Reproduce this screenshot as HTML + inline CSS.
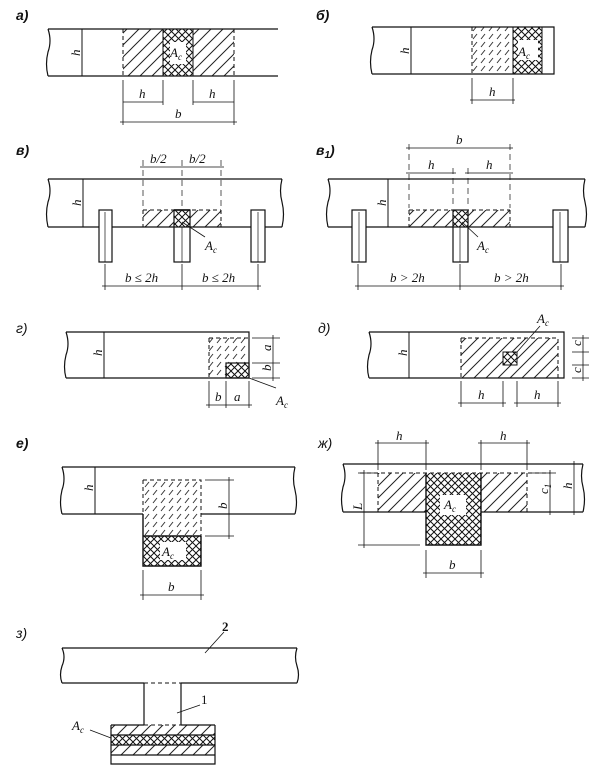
<!DOCTYPE html>
<html><head><meta charset="utf-8"><style>
html,body{margin:0;padding:0;background:#fff}
svg{display:block}
text{font-family:"Liberation Serif",serif;font-style:italic;font-size:13px;fill:#111}
.lb{font-family:"Liberation Sans",sans-serif;font-weight:bold;font-size:14px}
</style></head><body>
<svg width="605" height="771" viewBox="0 0 605 771" xmlns="http://www.w3.org/2000/svg">
<defs>
<pattern id="ht" width="12" height="12" patternUnits="userSpaceOnUse"><path d="M-1,13 L13,-1 M-1,1 L1,-1 M11,13 L13,11" stroke="#222" stroke-width="1"/></pattern>
<pattern id="cx" width="7" height="7" patternUnits="userSpaceOnUse"><path d="M0,7 L7,0 M0,0 L7,7" stroke="#111" stroke-width="1"/></pattern>
<pattern id="dh" width="8" height="8" patternUnits="userSpaceOnUse"><path d="M1,7 L5,2" stroke="#333" stroke-width="1"/></pattern>
</defs>
<g fill="none" stroke="#111" stroke-width="1.2">
<!-- a -->
<rect x="123" y="29" width="111" height="47" fill="url(#ht)" stroke="none"/>
<rect x="163" y="29" width="30" height="47" fill="#fff" stroke="none"/>
<rect x="163" y="29" width="30" height="47" fill="url(#cx)" stroke="none"/>
<rect x="170" y="42" width="16" height="22" fill="#fff" stroke="none"/>
<path d="M48,29 L278,29 M48,76 L278,76 M48,29 q4,12 0,23 q-3,12 0,24"/>
<path d="M82,29 V76" stroke-width="1"/>
<path d="M123,29V76 M234,29V76" stroke-dasharray="4,3" stroke-width="1"/>
<path d="M163,29V76 M193,29V76" stroke-width="1"/>
<path d="M123,80V125 M163,80V105 M193,80V105 M234,80V125 M123,102H163 M193,102H234 M120,122H237" stroke-width="0.8"/>
<!-- б -->
<rect x="472" y="27" width="41" height="47" fill="url(#dh)" stroke="none"/>
<rect x="513" y="27" width="29" height="47" fill="url(#cx)" stroke="none"/>
<rect x="518" y="40" width="20" height="20" fill="#fff" stroke="none"/>
<path d="M372,27 H554 V74 H372 M372,27 q4,12 0,23 q-3,12 0,24"/>
<path d="M411,27V74 M542,27V74 M513,27V74" stroke-width="1"/>
<path d="M472,27V74" stroke-dasharray="4,3" stroke-width="1"/>
<path d="M472,78V104 M513,78V104 M470,100H515" stroke-width="0.8"/>
<!-- в -->
<rect x="143" y="210" width="78" height="17" fill="url(#ht)" stroke="none"/>
<rect x="174" y="210" width="16" height="17" fill="#fff" stroke="none"/>
<rect x="174" y="210" width="16" height="17" fill="url(#cx)" stroke="none"/>
<path d="M48,179 H282 M48,227 H282 M48,179 q4,12 0,23 q-3,12 0,25 M282,179 q-3,12 0,23 q3,12 0,25"/>
<path d="M83,179V227" stroke-width="1"/>
<path d="M143,210H221 M143,210V227 M221,210V227" stroke-dasharray="4,3" stroke-width="1"/>
<path d="M174,210H190" stroke-width="1.6"/>
<rect x="99" y="210" width="13" height="52" fill="#fff"/><path d="M105,212V262" stroke-width="0.7"/>
<rect x="174" y="210" width="16" height="52" fill="none"/><path d="M182,227V262" stroke-width="0.7"/>
<rect x="251" y="210" width="14" height="52" fill="#fff"/><path d="M258,212V262" stroke-width="0.7"/>
<path d="M143,160V208 M182,160V208 M221,160V208" stroke-dasharray="6,4" stroke-width="0.7"/>
<path d="M140,167H224 M105,264V290 M182,264V290 M258,264V290 M102,286H261 M182,222 L205,237" stroke-width="0.8"/>
<!-- в1 -->
<rect x="409" y="210" width="101" height="17" fill="url(#ht)" stroke="none"/>
<rect x="453" y="210" width="15" height="17" fill="#fff" stroke="none"/>
<rect x="453" y="210" width="15" height="17" fill="url(#cx)" stroke="none"/>
<path d="M328,179 H585 M328,227 H585 M328,179 q4,12 0,23 q-3,12 0,25 M585,179 q-3,12 0,23 q3,12 0,25"/>
<path d="M388,179V227" stroke-width="1"/>
<path d="M409,210H510 M409,210V227 M510,210V227" stroke-dasharray="4,3" stroke-width="1"/>
<rect x="352" y="210" width="14" height="52" fill="#fff"/><path d="M359,212V262" stroke-width="0.7"/>
<rect x="453" y="210" width="15" height="52"/><path d="M460,227V262" stroke-width="0.7"/>
<rect x="553" y="210" width="15" height="52" fill="#fff"/><path d="M560,212V262" stroke-width="0.7"/>
<path d="M409,144V208 M510,144V208 M453,168V208 M468,168V208" stroke-dasharray="6,4" stroke-width="0.7"/>
<path d="M406,148H513 M406,173H456 M465,173H513 M358,264V290 M460,264V290 M561,264V290 M355,286H564 M462,222 L478,237" stroke-width="0.8"/>
<!-- г -->
<rect x="209" y="338" width="40" height="40" fill="url(#dh)" stroke="none"/>
<rect x="226" y="363" width="23" height="15" fill="#fff" stroke="none"/>
<rect x="226" y="363" width="23" height="15" fill="url(#cx)"/>
<path d="M66,332 H249 V378 H66 M66,332 q4,12 0,23 q-3,12 0,23"/>
<path d="M104,332V378" stroke-width="1"/>
<path d="M209,338H249 M209,338V378" stroke-dasharray="4,3" stroke-width="1"/>
<path d="M252,338H280 M252,363H280 M252,378H280 M273,335V381 M209,381V408 M226,381V408 M249,381V408 M206,405H252 M249,378 L276,388" stroke-width="0.8"/>
<!-- д -->
<rect x="461" y="338" width="97" height="40" fill="url(#ht)" stroke="none"/>
<rect x="503" y="352" width="14" height="13" fill="#fff" stroke="none"/>
<rect x="503" y="352" width="14" height="13" fill="url(#cx)" stroke-width="1"/>
<path d="M369,332 H564 V378 H369 M369,332 q4,12 0,23 q-3,12 0,23"/>
<path d="M409,332V378" stroke-width="1"/>
<path d="M461,338H558 V378 M461,338V378" stroke-dasharray="4,3" stroke-width="1"/>
<path d="M572,338H589 M572,352H589 M572,365H589 M572,378H589 M583,335V381 M461,381V407 M503,381V407 M517,381V407 M558,381V407 M458,403H506 M514,403H561 M517,352 L540,326" stroke-width="0.8"/>
<!-- е -->
<rect x="143" y="480" width="58" height="56" fill="url(#dh)" stroke="none"/>
<rect x="143" y="536" width="58" height="30" fill="url(#cx)" stroke="none"/>
<rect x="160" y="542" width="26" height="18" fill="#fff" stroke="none"/>
<path d="M62,467 H295 M62,514 H143 M201,514 H295 M62,467 q4,12 0,23 q-3,12 0,24 M295,467 q-3,12 0,23 q3,12 0,24"/>
<path d="M95,467V514" stroke-width="1"/>
<path d="M143,480H201 V536 M143,480V536" stroke-dasharray="4,3" stroke-width="1"/>
<path d="M143,514V566 H201 V536 M143,536H201" stroke-width="1.4"/>
<path d="M205,480H234 M205,536H234 M229,477V539 M143,570V600 M201,570V600 M140,595H204" stroke-width="0.8"/>
<!-- ж -->
<rect x="378" y="473" width="149" height="39" fill="url(#ht)" stroke="none"/>
<rect x="426" y="473" width="55" height="72" fill="#fff" stroke="none"/>
<rect x="426" y="473" width="55" height="72" fill="url(#cx)" stroke="none"/>
<rect x="440" y="495" width="26" height="20" fill="#fff" stroke="none"/>
<path d="M343,464 H583 M343,512 H426 M481,512 H583 M343,464 q4,12 0,23 q-3,12 0,25 M583,464 q-3,12 0,23 q3,12 0,25"/>
<path d="M360,473H550 M378,473V512 M527,473V512" stroke-dasharray="4,3" stroke-width="1"/>
<path d="M426,473V545 H481 V473" stroke-width="1.4"/>
<path d="M378,440V470 M426,440V470 M481,440V470 M527,440V470 M375,443H429 M478,443H530 M358,473H374 M358,545H420 M364,470V548 M530,473H556 M530,512H556 M550,470V515 M574,461V515 M426,550V578 M481,550V578 M423,573H484" stroke-width="0.8"/>
<!-- з -->
<rect x="111" y="725" width="104" height="10" fill="url(#ht)" stroke="none"/>
<rect x="111" y="735" width="104" height="10" fill="url(#cx)" stroke="none"/>
<rect x="111" y="745" width="104" height="10" fill="url(#ht)" stroke="none"/>
<path d="M62,648 H297 M62,683 H144 M181,683 H297 M62,648 q4,9 0,18 q-3,9 0,17 M297,648 q-3,9 0,18 q3,9 0,17"/>
<path d="M144,683H181 M144,725H181" stroke-dasharray="4,3" stroke-width="1"/>
<path d="M144,683V725 M181,683V725 M111,725H144 M181,725H215 M111,725V764 H215 V725 M111,735H215 M111,745H215 M111,755H215" stroke-width="1.2"/>
<path d="M205,653 L224,632 M177,713 L200,705 M90,730 L111,738" stroke-width="0.8"/>
</g>
<g>
<text class="lb" x="16" y="20">а)</text>
<text class="lb" x="316" y="20">б)</text>
<text class="lb" x="16" y="155">в)</text>
<text class="lb" x="316" y="155">в<tspan font-size="10" dy="3">1</tspan><tspan dy="-3">)</tspan></text>
<text class="lb" x="16" y="333" style="font-weight:normal;font-style:italic">г)</text>
<text class="lb" x="318" y="333" style="font-weight:normal;font-style:italic">д)</text>
<text class="lb" x="16" y="448">е)</text>
<text class="lb" x="318" y="448" style="font-weight:normal;font-style:italic">ж)</text>
<text class="lb" x="16" y="638" style="font-weight:normal;font-style:italic">з)</text>

<text x="78" y="58" transform="rotate(-90 78 56)">h</text>
<text x="170" y="57">A<tspan font-size="9" dy="3">c</tspan></text>
<text x="139" y="98">h</text><text x="209" y="98">h</text><text x="175" y="118">b</text>

<text x="407" y="56" transform="rotate(-90 407 54)">h</text>
<text x="518" y="56">A<tspan font-size="9" dy="3">c</tspan></text>
<text x="489" y="96">h</text>

<text x="79" y="208" transform="rotate(-90 79 206)">h</text>
<text x="150" y="163">b/2</text><text x="189" y="163">b/2</text>
<text x="205" y="250">A<tspan font-size="9" dy="3">c</tspan></text>
<text x="125" y="282">b ≤ 2h</text><text x="202" y="282">b ≤ 2h</text>

<text x="384" y="208" transform="rotate(-90 384 206)">h</text>
<text x="456" y="144">b</text><text x="428" y="169">h</text><text x="486" y="169">h</text>
<text x="477" y="250">A<tspan font-size="9" dy="3">c</tspan></text>
<text x="390" y="282">b &gt; 2h</text><text x="494" y="282">b &gt; 2h</text>

<text x="100" y="358" transform="rotate(-90 100 356)">h</text>
<text x="269" y="353" transform="rotate(-90 269 351)">a</text>
<text x="269" y="373" transform="rotate(-90 269 371)">b</text>
<text x="215" y="401">b</text><text x="234" y="401">a</text>
<text x="276" y="405">A<tspan font-size="9" dy="3">c</tspan></text>

<text x="405" y="358" transform="rotate(-90 405 356)">h</text>
<text x="579" y="348" transform="rotate(-90 579 346)">c</text>
<text x="579" y="375" transform="rotate(-90 579 373)">c</text>
<text x="478" y="399">h</text><text x="534" y="399">h</text>
<text x="537" y="323">A<tspan font-size="9" dy="3">c</tspan></text>

<text x="91" y="493" transform="rotate(-90 91 491)">h</text>
<text x="225" y="511" transform="rotate(-90 225 509)">b</text>
<text x="162" y="556">A<tspan font-size="9" dy="3">c</tspan></text>
<text x="168" y="591">b</text>

<text x="396" y="440">h</text><text x="500" y="440">h</text>
<text x="444" y="509">A<tspan font-size="9" dy="3">c</tspan></text>
<text x="360" y="512" transform="rotate(-90 360 510)">L</text>
<text x="546" y="496" transform="rotate(-90 546 494)">c<tspan font-size="9" dy="3">1</tspan></text>
<text x="570" y="491" transform="rotate(-90 570 489)">h</text>
<text x="449" y="569">b</text>

<text x="222" y="631" style="font-style:normal;font-weight:bold">2</text>
<text x="201" y="704" style="font-style:normal">1</text>
<text x="72" y="730">A<tspan font-size="9" dy="3">c</tspan></text>
</g>
</svg>
</body></html>
